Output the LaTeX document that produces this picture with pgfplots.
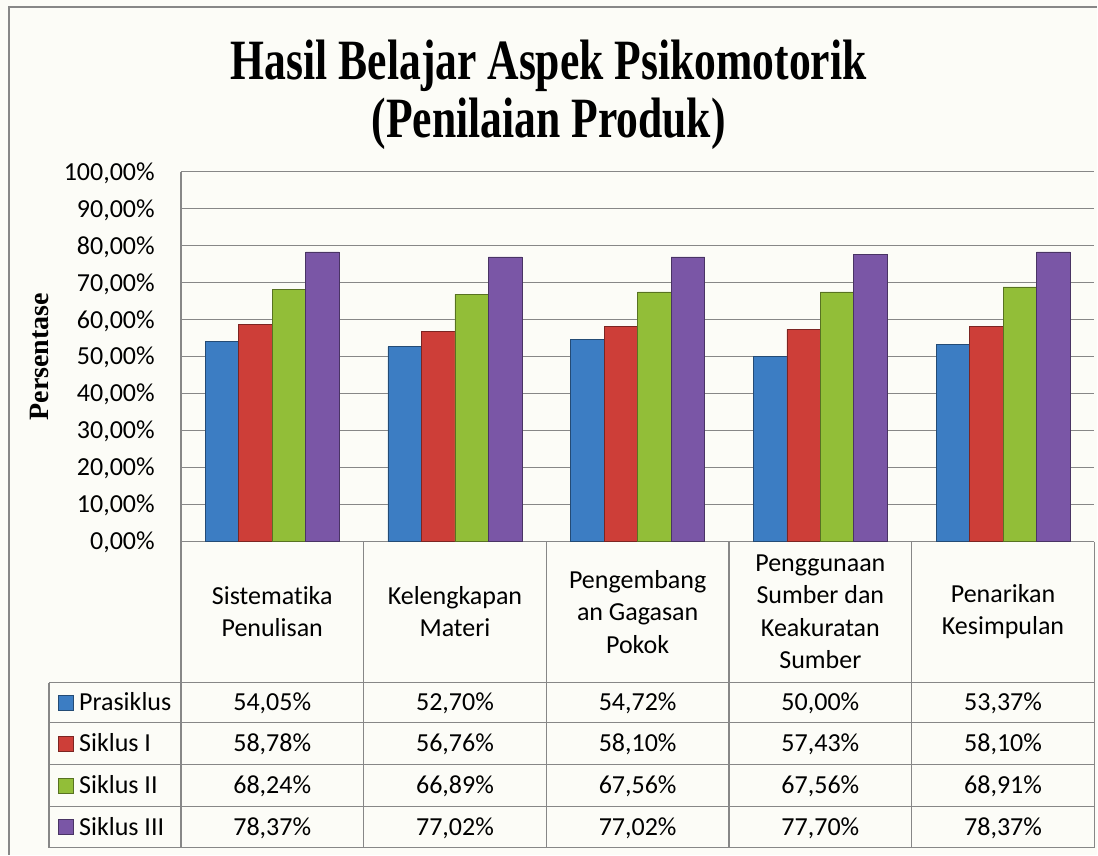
\documentclass[border=0pt]{standalone}
\usepackage{pgfplots}
\pgfplotsset{compat=1.18}
\usepackage{pgfplotstable}
\usepackage{graphicx}
\usepackage{fontspec}
\setmainfont{Carlito}[Ligatures=NoCommon]
\newfontfamily\tnr{Liberation Serif}

\definecolor{bg}{RGB}{252,252,247}
\definecolor{gridc}{RGB}{135,135,135}
\definecolor{cblue}{RGB}{60,125,195}
\definecolor{cred}{RGB}{205,62,56}
\definecolor{cgreen}{RGB}{146,190,56}
\definecolor{cpurp}{RGB}{122,86,166}

\pgfplotstableread{
cat pra s1 s2 s3
0 54.05 58.78 68.24 78.37
1 52.70 56.76 66.89 77.02
2 54.72 58.10 67.56 77.02
3 50.00 57.43 67.56 77.70
4 53.37 58.10 68.91 78.37
}\datatable

\begin{document}
\begin{tikzpicture}[x=1pt,y=1pt]
\fill[bg] (0,0) rectangle (1098,855);
\draw[gridc, line width=1.2pt] (9,0) -- (9,848) -- (1098,848);

% title
\node[anchor=base, inner sep=0pt, font=\tnr\bfseries\fontsize{57}{64}\selectfont] at (549,775) {\scalebox{0.765}[1]{Hasil Belajar Aspek Psikomotorik}};
\node[anchor=base, inner sep=0pt, font=\tnr\bfseries\fontsize{57}{64}\selectfont] at (549,717) {\scalebox{0.765}[1]{(Penilaian Produk)}};

% y label
\node[rotate=90, inner sep=0pt, font=\tnr\bfseries\fontsize{28}{32}\selectfont] at (39,498) {Persentase};

\begin{axis}[
  at={(181pt,313pt)}, anchor=south west,
  scale only axis, width=914pt, height=370pt,
  xmin=-0.5, xmax=4.5, ymin=0, ymax=100,
  ybar=0pt, bar width=33.5pt,
  xtick=\empty,
  ytick={0,10,...,100},
  yticklabels={{0,00\%},{10,00\%},{20,00\%},{30,00\%},{40,00\%},{50,00\%},{60,00\%},{70,00\%},{80,00\%},{90,00\%},{100,00\%}},
  ymajorgrids, grid style={gridc, line width=1.2pt},
  axis x line=none, axis y line=left,
  axis line style={-, gridc, line width=1.2pt},
  major tick length=0pt,
  yticklabel style={anchor=base east, inner sep=0pt, xshift=-26pt, yshift=-8.2pt, font=\fontsize{26}{30}\selectfont},
  clip=false,
]
\addplot[draw=cblue!60!black, line width=0.7pt, fill=cblue] table[x=cat, y=pra] {\datatable};
\addplot[draw=cred!60!black, line width=0.7pt, fill=cred] table[x=cat, y=s1] {\datatable};
\addplot[draw=cgreen!60!black, line width=0.7pt, fill=cgreen] table[x=cat, y=s2] {\datatable};
\addplot[draw=cpurp!60!black, line width=0.7pt, fill=cpurp] table[x=cat, y=s3] {\datatable};
\end{axis}

% table lines (y = 855 - pixel row)
\begin{scope}[gridc, line width=1.2pt]
\draw (181,313) -- (181,7);
\foreach \py in {683,723,765,807,848} {\draw (49,855-\py) -- (1095,855-\py);}
\draw (49,172) -- (49,7);
\foreach \i in {1,...,5} {\draw ({181+\i*182.8},313) -- ({181+\i*182.8},7);}
\end{scope}

% header labels
\begin{scope}[font=\fontsize{26}{32.5}\selectfont]
\node[align=center] at ({181+0.5*182.8},243) {Sistematika\\Penulisan};
\node[align=center] at ({181+1.5*182.8},243) {Kelengkapan\\Materi};
\node[align=center] at ({181+2.5*182.8},243) {Pengembang\\an Gagasan\\Pokok};
\node[align=center] at ({181+3.5*182.8},243) {Penggunaan\\Sumber dan\\Keakuratan\\Sumber};
\node[align=center] at ({181+4.5*182.8},243) {Penarikan\\Kesimpulan};

% legend column
\foreach \name/\col/\yy in {Prasiklus/cblue/703, Siklus I/cred/744, Siklus II/cgreen/786, Siklus III/cpurp/827.5} {
  \fill[\col, draw=\col!60!black, line width=0.5pt] (58,855-\yy-7.5) rectangle (73,855-\yy+7.5);
  \node[anchor=base west, inner sep=0pt] at (79,855-\yy-8.2) {\name};
}

% values
\foreach \r in {0,...,4} {
  \foreach \c/\yy in {pra/703, s1/744, s2/786, s3/827.5} {
    \pgfplotstablegetelem{\r}{\c}\of\datatable
    \node[anchor=base, inner sep=0pt] at ({181+(\r+0.5)*182.8},{855-\yy-8.2}) {\pgfmathprintnumber[fixed,fixed zerofill,precision=2,use comma,assume math mode=true]{\pgfplotsretval}\%};
  }
}
\end{scope}
\end{tikzpicture}
\end{document}
